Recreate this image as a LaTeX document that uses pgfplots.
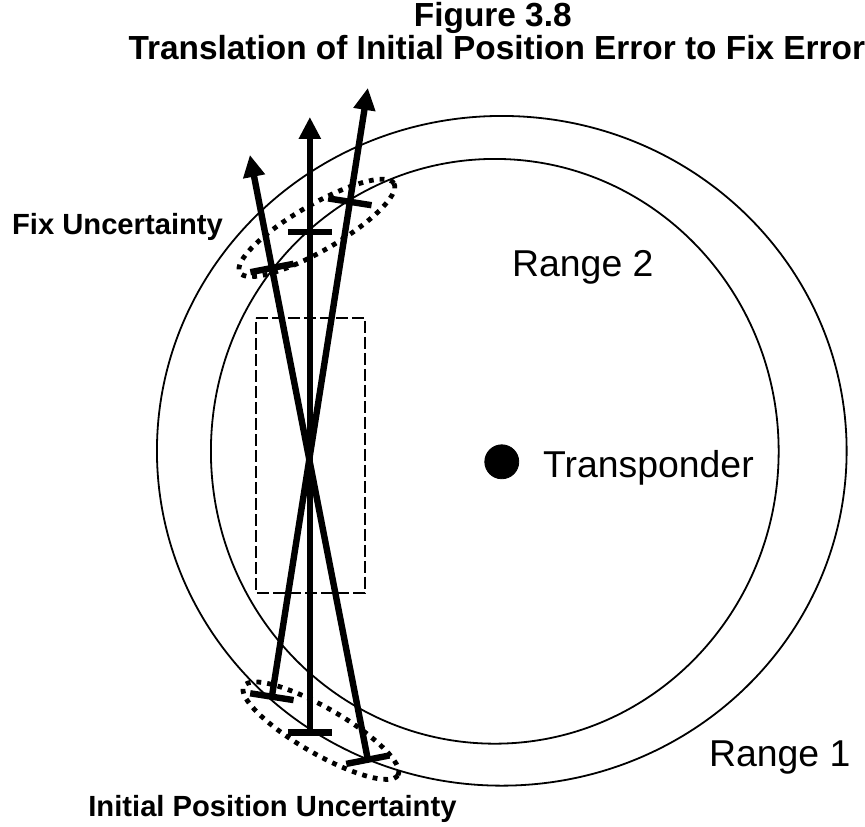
\documentclass[border=0pt]{standalone}
\usepackage{pgfplots}
\pgfplotsset{compat=1.18}
\usetikzlibrary{arrows.meta}
\usepackage{fontspec}
\setmainfont{Liberation Sans}

% coordinates are in the pixel frame of the original figure (y downwards)
\begin{document}
\begin{tikzpicture}
\begin{axis}[
    scale only axis,
    width=432.5bp, height=413.5bp,
    xmin=0, xmax=865, ymin=0, ymax=827,
    y dir=reverse,
    hide axis,
    clip=false,
]
% range circles
\draw[line width=0.9bp] (axis cs:502,451) ellipse [x radius=172.5bp, y radius=167.5bp];
\draw[line width=0.9bp] (axis cs:495,451.5) ellipse [x radius=142bp, y radius=146.25bp];

% uncertainty ellipses
\draw[line width=2.4bp, dash pattern=on 2.4bp off 3bp, rotate around={30:(axis cs:317,228)}]
    (axis cs:317,228) ellipse [x radius=44.5bp, y radius=11.5bp];
\draw[line width=2.4bp, dash pattern=on 2.4bp off 3bp, rotate around={-30:(axis cs:321,731)}]
    (axis cs:321,731) ellipse [x radius=44.5bp, y radius=11.5bp];

% dashed box
\addplot[black, line width=0.8bp, dash pattern=on 6bp off 2bp] coordinates {
    (256,318) (365,318) (365,593) (256,593) (256,318)};

% lines of position with arrows
\addplot[black, line width=3.2bp, -{Triangle[length=11bp,width=10.5bp]}] coordinates {(272,697) (368,88)};
\addplot[black, line width=3.2bp, -{Triangle[length=11bp,width=10.5bp]}] coordinates {(368,760) (250,155)};
\addplot[black, line width=3.2bp, -{Triangle[length=11bp,width=10.5bp]}] coordinates {(310,733) (310,117)};

% cross bars
\addplot[black, line width=3.2bp] coordinates {(250.3,693.6) (293.7,700.4)};
\addplot[black, line width=3.2bp] coordinates {(328.3,198.5) (371.7,205.3)};
\addplot[black, line width=3.2bp] coordinates {(346.4,764.2) (389.6,755.8)};
\addplot[black, line width=3.2bp] coordinates {(250.5,272.3) (293.7,263.9)};
\addplot[black, line width=3.2bp] coordinates {(288,733) (332,733)};
\addplot[black, line width=3.2bp] coordinates {(288,232) (332,232)};

% transponder
\addplot[black, only marks, mark=*, mark size=8.5bp] coordinates {(502,462)};

% labels
\node[anchor=base, inner sep=0, font=\bfseries\fontsize{16.7bp}{20bp}\selectfont] at (axis cs:493,27) {Figure 3.8};
\node[anchor=base, inner sep=0, font=\bfseries\fontsize{16.7bp}{20bp}\selectfont] at (axis cs:497,60) {Translation of Initial Position Error to Fix Error};
\node[anchor=base west, inner sep=0, font=\bfseries\fontsize{14.6bp}{17bp}\selectfont] at (axis cs:11.7,235) {Fix Uncertainty};
\node[anchor=base west, inner sep=0, font=\bfseries\fontsize{14.6bp}{17bp}\selectfont] at (axis cs:88,817) {Initial Position Uncertainty};
\node[anchor=base west, inner sep=0, font=\fontsize{18.7bp}{22bp}\selectfont] at (axis cs:512,277) {Range 2};
\node[anchor=base west, inner sep=0, font=\fontsize{18.7bp}{22bp}\selectfont] at (axis cs:543,478) {Transponder};
\node[anchor=base west, inner sep=0, font=\fontsize{18.7bp}{22bp}\selectfont] at (axis cs:709,767) {Range 1};
\end{axis}
\path (current axis.south west) rectangle (current axis.north east);
\end{tikzpicture}
\end{document}
